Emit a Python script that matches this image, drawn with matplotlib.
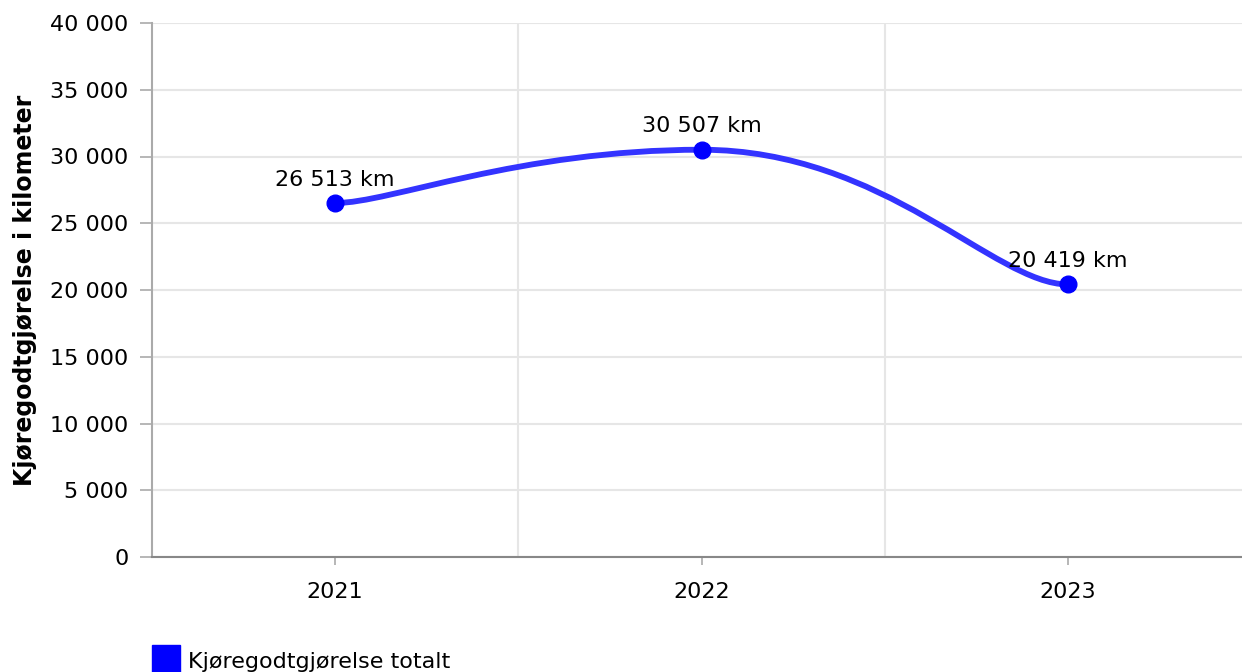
import matplotlib
matplotlib.use("Agg")
import matplotlib.pyplot as plt
from matplotlib.path import Path
from matplotlib.patches import PathPatch, Rectangle
from matplotlib.ticker import FuncFormatter, MultipleLocator

plt.rc('font', family='DejaVu Sans', size=16)

# data
years = ["2021", "2022", "2023"]
km = [26513, 30507, 20419]
series_name = "Kjøregodtgjørelse totalt"
y_label = "Kjøregodtgjørelse i kilometer"

line_col = "#3333ff"
dot_col = "#0000ff"
grid_col = "#e6e6e6"


def spline_path(xs, ys, smoothing=1.0, start_frac=0.15, end_frac=0.2):
    # spline with control points on a line through each point
    n = len(xs)
    left = [None] * n
    right = [None] * n
    right[0] = (xs[0] + start_frac * (xs[1] - xs[0]), ys[0])
    left[-1] = (xs[-1] - end_frac * (xs[-1] - xs[-2]), ys[-1])
    for i in range(1, n - 1):
        x, y = xs[i], ys[i]
        lx, ly = xs[i - 1], ys[i - 1]
        nx, ny = xs[i + 1], ys[i + 1]
        d = smoothing + 1
        lcx, lcy = (smoothing * x + lx) / d, (smoothing * y + ly) / d
        rcx, rcy = (smoothing * x + nx) / d, (smoothing * y + ny) / d
        corr = (rcy - lcy) * (rcx - x) / (rcx - lcx) + y - rcy
        lcy += corr
        rcy += corr
        if lcy > ly and lcy > y:
            lcy = max(ly, y); rcy = 2 * y - lcy
        elif lcy < ly and lcy < y:
            lcy = min(ly, y); rcy = 2 * y - lcy
        if rcy > ny and rcy > y:
            rcy = max(ny, y); lcy = 2 * y - rcy
        elif rcy < ny and rcy < y:
            rcy = min(ny, y); lcy = 2 * y - rcy
        left[i] = (lcx, lcy)
        right[i] = (rcx, rcy)
    verts = [(xs[0], ys[0])]
    codes = [Path.MOVETO]
    for i in range(1, n):
        verts += [right[i - 1], left[i], (xs[i], ys[i])]
        codes += [Path.CURVE4] * 3
    return Path(verts, codes)


fig = plt.figure(figsize=(12.42, 6.72), dpi=100)
ax = fig.add_axes([152 / 1242, 115 / 672, 1099 / 1242, 534 / 672])

xs = list(range(len(years)))
ax.add_patch(PathPatch(spline_path(xs, km), fill=False, edgecolor=line_col,
                       lw=4.2, capstyle='round', zorder=3))
ax.plot(xs, km, 'o', color=dot_col, ms=12, zorder=4)

for x, v in zip(xs, km):
    ax.annotate(f"{v:,} km".replace(",", " "), (x, v), xytext=(0, 12.5),
                textcoords='offset points', ha='center', va='baseline', fontsize=16)

ax.set_xlim(-0.5, 2.5)
ax.set_ylim(0, 40000)
ax.set_xticks(xs)
ax.set_xticklabels(years)
ax.yaxis.set_major_locator(MultipleLocator(5000))
ax.yaxis.set_major_formatter(FuncFormatter(lambda v, p: f"{v:,.0f}".replace(",", " ")))

ax.grid(axis='y', color=grid_col, lw=1.5, zorder=0)
for gx in [0.5, 1.5]:
    ax.axvline(gx, color=grid_col, lw=1.5, zorder=0)

for s in ['top', 'right']:
    ax.spines[s].set_visible(False)
ax.spines['left'].set_color("#aaaaaa")
ax.spines['left'].set_linewidth(1.5)
ax.spines['bottom'].set_color("#888888")
ax.spines['bottom'].set_linewidth(1.5)
ax.tick_params(axis='y', length=8.5, width=1.2, color="#aaaaaa", pad=8.5)
ax.tick_params(axis='x', length=6, width=1.2, color="#aaaaaa", pad=12)

fig.text(25 / 1242, 382 / 672, y_label, rotation=90,
         ha='center', va='center', fontsize=17, fontweight='bold')

# legend
fig.patches.append(Rectangle((152 / 1242, -1 / 672), 28 / 1242, 28 / 672,
                             transform=fig.transFigure, color=dot_col))
fig.text(188 / 1242, 4 / 672, series_name, ha='left', va='baseline', fontsize=16)

fig.savefig("out.png", dpi=100)
